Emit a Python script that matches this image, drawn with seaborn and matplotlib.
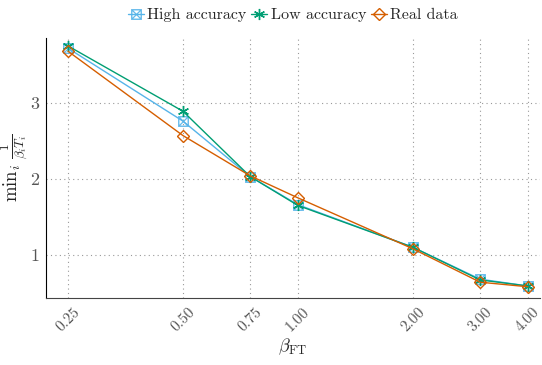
import numpy as np
import pandas as pd
import matplotlib
matplotlib.use("Agg")
import matplotlib.pyplot as plt
import seaborn as sns

# data
beta_ft = [0.25, 0.50, 0.75, 1.00, 2.00, 3.00, 4.00]
high_acc = [3.72, 2.76, 2.03, 1.66, 1.10, 0.68, 0.59]
low_acc = [3.75, 2.89, 2.03, 1.65, 1.10, 0.67, 0.59]
real_data = [3.68, 2.57, 2.04, 1.75, 1.08, 0.64, 0.58]
tick_labels = ["0.25", "0.50", "0.75", "1.00", "2.00", "3.00", "4.00"]

df = pd.DataFrame({
    "beta": beta_ft * 3,
    "value": high_acc + low_acc + real_data,
    "series": ["High accuracy"] * 7 + ["Low accuracy"] * 7 + ["Real data"] * 7,
})

sns.set_style("white")
plt.rcParams["font.family"] = ["cmr10"]
plt.rcParams["mathtext.fontset"] = "cm"
plt.rcParams["axes.formatter.use_mathtext"] = True

colors = {"High accuracy": "#56B4E9", "Low accuracy": "#009E73", "Real data": "#D55E00"}
marker_kw = {
    "High accuracy": dict(marker=r"$\boxtimes$", markersize=7.5, markeredgewidth=0.3),
    "Low accuracy": dict(marker=(6, 2, 0), markersize=8, markeredgewidth=1.0),
    "Real data": dict(marker="D", markersize=6.5, markerfacecolor="none", markeredgewidth=1.0),
}

fig = plt.figure(figsize=(5.42, 3.65), dpi=100)
ax = fig.add_axes([0.085, 0.184, 0.911, 0.712])

for name in ["High accuracy", "Low accuracy", "Real data"]:
    sub = df[df["series"] == name]
    sns.lineplot(data=sub, x="beta", y="value", ax=ax, color=colors[name],
                 linewidth=1.0, label=name, markeredgecolor=colors[name],
                 **marker_kw[name])

ax.set_xscale("log")
ax.set_xlim(0.219, 4.3)
ax.set_ylim(0.434, 3.855)
ax.set_xticks(beta_ft)
ax.set_xticklabels(tick_labels, rotation=45, color="#555555", fontsize=11)
ax.xaxis.set_minor_locator(matplotlib.ticker.NullLocator())
ax.set_yticks([1, 2, 3])
ax.set_yticklabels(["1", "2", "3"], color="#555555", fontsize=13)
ax.tick_params(axis="both", length=3, width=0.8, color="#333333", pad=2)

ax.grid(True, linestyle=(0, (1, 3)), color="#999999", linewidth=0.8)
for s in ["top", "right"]:
    ax.spines[s].set_visible(False)
ax.spines["left"].set_color("black")
ax.spines["bottom"].set_color("#444444")

ax.set_xlabel(r"$\beta_{\mathrm{FT}}$", fontsize=13, labelpad=2)
ax.set_ylabel(r"$\mathrm{min}_i\ \frac{1}{\beta_i T_i}$", fontsize=13.5)
ax.yaxis.set_label_coords(-0.03, 0.5)

ax.legend(loc="lower center", bbox_to_anchor=(0.5, 1.035), ncol=3, frameon=False,
          fontsize=11.5, handlelength=1.0, handletextpad=0.2, columnspacing=0.3,
          borderaxespad=0.0)

fig.savefig("out.png", dpi=100)
